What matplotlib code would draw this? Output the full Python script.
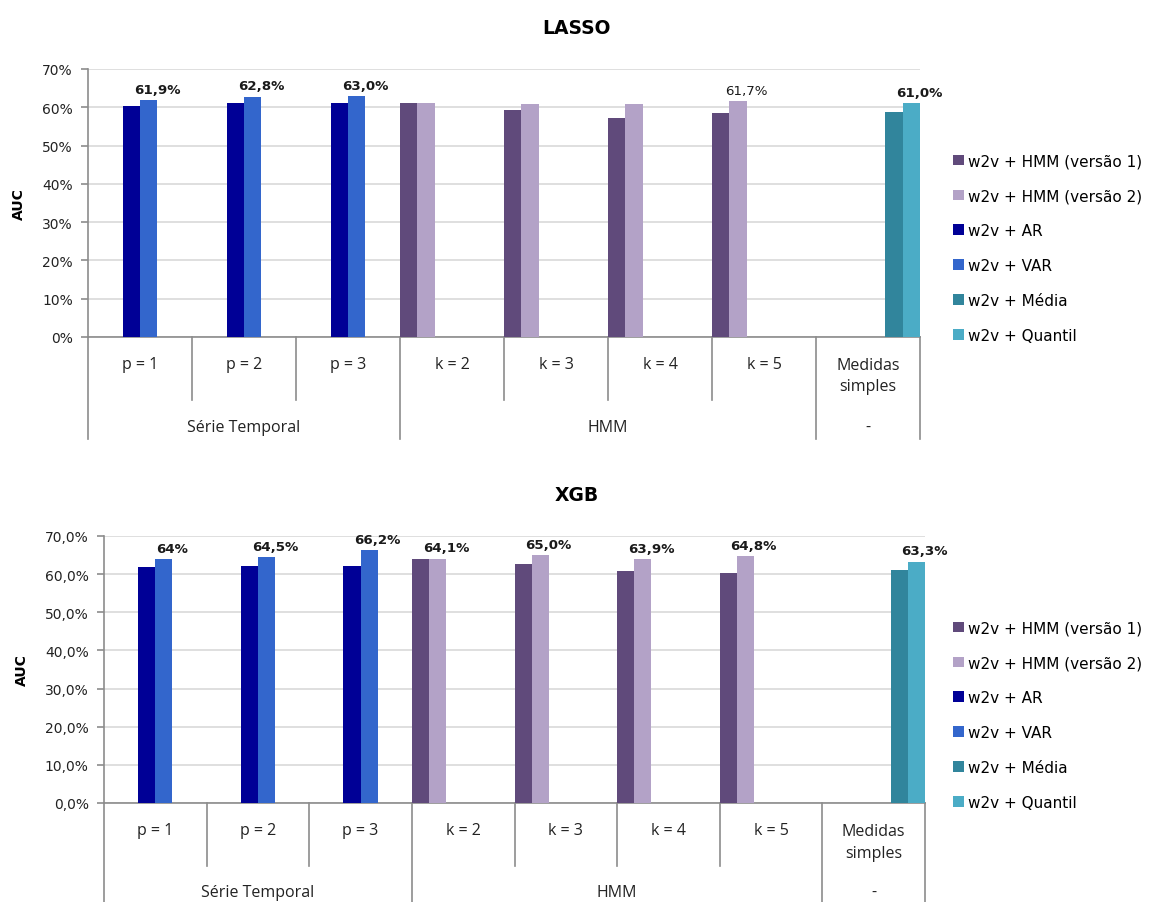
import numpy as np
import matplotlib
matplotlib.use("Agg")
import matplotlib.pyplot as plt
from matplotlib.patches import Patch

nan = np.nan

# ---------------- data ----------------
categories = ["p = 1", "p = 2", "p = 3", "k = 2", "k = 3", "k = 4", "k = 5", "Medidas\nsimples"]
group_names = ["Série Temporal", "HMM", "-"]
group_sizes = [3, 4, 1]

series_names = ["w2v + HMM (versão 1)", "w2v + HMM (versão 2)", "w2v + AR",
                "w2v + VAR", "w2v + Média", "w2v + Quantil"]
series_colors = ["#604A7B", "#B3A2C7", "#000096", "#3366CC", "#31859C", "#4BACC6"]

lasso_hmm_v1 = [nan, nan, nan, 61.2, 59.2, 57.3, 58.5, nan]
lasso_hmm_v2 = [nan, nan, nan, 61.2, 60.8, 60.8, 61.7, nan]
lasso_ar = [60.4, 61.2, 61.2, nan, nan, nan, nan, nan]
lasso_var = [61.9, 62.8, 63.0, nan, nan, nan, nan, nan]
lasso_media = [nan, nan, nan, nan, nan, nan, nan, 58.8]
lasso_quantil = [nan, nan, nan, nan, nan, nan, nan, 61.0]

xgb_hmm_v1 = [nan, nan, nan, 64.1, 62.7, 60.7, 60.3, nan]
xgb_hmm_v2 = [nan, nan, nan, 64.1, 65.0, 63.9, 64.8, nan]
xgb_ar = [61.9, 62.2, 62.2, nan, nan, nan, nan, nan]
xgb_var = [64.0, 64.5, 66.2, nan, nan, nan, nan, nan]
xgb_media = [nan, nan, nan, nan, nan, nan, nan, 61.0]
xgb_quantil = [nan, nan, nan, nan, nan, nan, nan, 63.3]

lasso_label_series = [3, 3, 3, 1, 5]
lasso_label_cats = [0, 1, 2, 6, 7]
lasso_label_texts = ["61,9%", "62,8%", "63,0%", "61,7%", "61,0%"]
lasso_label_bold = [True, True, True, False, True]

xgb_label_series = [3, 3, 3, 1, 1, 1, 1, 5]
xgb_label_cats = [0, 1, 2, 3, 4, 5, 6, 7]
xgb_label_texts = ["64%", "64,5%", "66,2%", "64,1%", "65,0%", "63,9%", "64,8%", "63,3%"]
xgb_label_bold = [True] * 8

lasso_ticks = ["0%", "10%", "20%", "30%", "40%", "50%", "60%", "70%"]
xgb_ticks = ["0,0%", "10,0%", "20,0%", "30,0%", "40,0%", "50,0%", "60,0%", "70,0%"]

# ---------------- figure ----------------
W, H = 1158, 903
fig = plt.figure(figsize=(W / 100, H / 100), dpi=100)

GRID = "#D9D9D9"
AXC = "#8C8C8C"
CAT_FONT = ["Open Sans", "DejaVu Sans"]


def px_rect(left, right, top, bottom):
    return [left / W, 1 - bottom / H, (right - left) / W, (bottom - top) / H]


def draw(ax, series, ticklabels, lab_s, lab_c, lab_t, lab_b,
         short_end, long_end, cat_y, multi_y, grp_y, ylab_x):
    n = len(categories)
    x = np.arange(n)
    k = len(series)
    w = 1.0 / k
    for i, vals in enumerate(series):
        ax.bar(x + (i - (k - 1) / 2) * w, vals, width=w, color=series_colors[i],
               edgecolor="none", zorder=3)
    for s, c, t, b in zip(lab_s, lab_c, lab_t, lab_b):
        xv = c + (s - (k - 1) / 2) * w
        yv = series[s][c]
        ax.annotate(t, (xv, yv), xytext=(6, 3), textcoords="offset points",
                    ha="center", va="bottom", fontsize=9.6,
                    fontweight="bold" if b else "normal", color="#1a1a1a", zorder=4)
    ax.set_xlim(-0.5, n - 0.5)
    ax.set_ylim(0, 70)
    ax.set_yticks(np.arange(0, 71, 10))
    ax.set_yticklabels(ticklabels, fontsize=10, color="#222222")
    ax.yaxis.grid(True, color=GRID, linewidth=1.2, zorder=0)
    ax.set_axisbelow(True)
    ax.set_xticks([])
    for sp in ["top", "right"]:
        ax.spines[sp].set_visible(False)
    ax.spines["left"].set_color(AXC)
    ax.spines["bottom"].set_color(AXC)
    ax.spines["left"].set_linewidth(1.2)
    ax.spines["bottom"].set_linewidth(1.2)
    ax.tick_params(axis="y", length=5, color=AXC, width=1.2, pad=6)
    ax.set_ylabel("AUC", fontsize=10, fontweight="bold")
    ax.yaxis.set_label_coords(ylab_x, 0.5)

    tr = ax.get_xaxis_transform()
    bounds_long = [0]
    acc = 0
    for g in group_sizes:
        acc += g
        bounds_long.append(acc)
    for j in range(n + 1):
        yend = long_end if j in bounds_long else short_end
        ax.plot([j - 0.5, j - 0.5], [0, yend], transform=tr, color=AXC,
                linewidth=1.2, clip_on=False, zorder=2)
    for i, c in enumerate(categories):
        yy = multi_y if "\n" in c else cat_y
        ax.text(i, yy, c, transform=tr, ha="center", va="center", fontsize=11.5,
                family=CAT_FONT, linespacing=1.45, color="#222222")
    start = 0
    for g, sz in zip(group_names, group_sizes):
        ax.text(start - 0.5 + sz / 2, grp_y, g, transform=tr, ha="center",
                va="center", fontsize=11.5, family=CAT_FONT, color="#222222")
        start += sz


lasso_series = [lasso_hmm_v1, lasso_hmm_v2, lasso_ar, lasso_var, lasso_media, lasso_quantil]
xgb_series = [xgb_hmm_v1, xgb_hmm_v2, xgb_ar, xgb_var, xgb_media, xgb_quantil]

ax1 = fig.add_axes(px_rect(88, 920, 70, 338))
draw(ax1, lasso_series, lasso_ticks, lasso_label_series, lasso_label_cats,
     lasso_label_texts, lasso_label_bold,
     short_end=-63 / 268, long_end=-102 / 268, cat_y=-27 / 268,
     multi_y=-38.5 / 268, grp_y=-90 / 268, ylab_x=-62 / 832)

ax2 = fig.add_axes(px_rect(104, 925, 537, 804))
draw(ax2, xgb_series, xgb_ticks, xgb_label_series, xgb_label_cats,
     xgb_label_texts, xgb_label_bold,
     short_end=-63 / 267, long_end=-99 / 267, cat_y=-27 / 267,
     multi_y=-39 / 267, grp_y=-89 / 267, ylab_x=-75 / 821)

fig.text(577 / W, 1 - 28 / H, "LASSO", ha="center", va="center", fontsize=13.5, fontweight="bold")
fig.text(577 / W, 1 - 496 / H, "XGB", ha="center", va="center", fontsize=13.5, fontweight="bold")

handles = [Patch(facecolor=c, edgecolor="none") for c in series_colors]
for cy in (249, 716):
    fig.legend(handles, series_names, loc="center left",
               bbox_to_anchor=(953 / W, 1 - cy / H), frameon=False, fontsize=11,
               handlelength=0.7, handleheight=0.7, handletextpad=0.3,
               labelspacing=1.3, borderpad=0, borderaxespad=0)

fig.savefig("out.png", dpi=100)
